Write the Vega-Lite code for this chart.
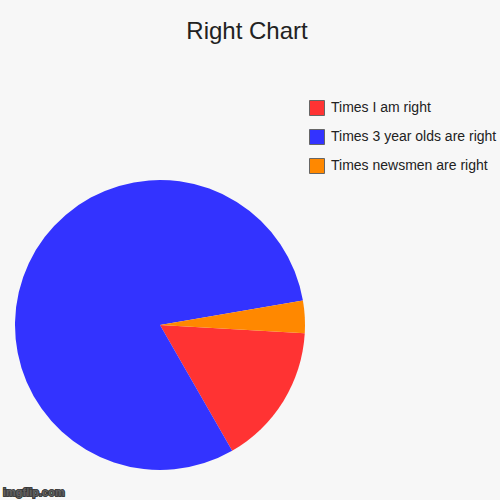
{
  "$schema": "https://vega.github.io/schema/vega-lite/v6.json",
  "width": 500,
  "height": 500,
  "autosize": "none",
  "padding": 0,
  "background": "#f7f7f7",
  "title": {
    "text": "Right Chart",
    "anchor": "middle",
    "frame": "group",
    "orient": "top",
    "offset": -23,
    "dx": -3,
    "dy": 40,
    "baseline": "alphabetic",
    "font": "Liberation Sans",
    "fontSize": 24,
    "fontWeight": "normal",
    "color": "#222222"
  },
  "data": {
    "values": [
      {"category": "Times I am right", "value": 15.8, "idx": 1},
      {"category": "Times 3 year olds are right", "value": 80.6, "idx": 2},
      {"category": "Times newsmen are right", "value": 3.6, "idx": 3}
    ]
  },
  "layer": [
    {
      "mark": {"type": "arc", "x": 160, "y": 325, "outerRadius": 145},
      "encoding": {
        "theta": {
          "field": "value",
          "type": "quantitative",
          "stack": true,
          "scale": {"range": [1.628, 7.911]}
        },
        "order": {"field": "idx", "type": "quantitative"},
        "color": {
          "field": "category",
          "type": "nominal",
          "scale": {
            "domain": ["Times I am right", "Times 3 year olds are right", "Times newsmen are right"],
            "range": ["#ff3333", "#3333ff", "#ff8800"]
          },
          "legend": {
            "title": null,
            "orient": "none",
            "legendX": 309,
            "legendY": 100,
            "padding": 0,
            "symbolType": "square",
            "symbolSize": 225,
            "symbolStrokeColor": "#666666",
            "symbolStrokeWidth": 1,
            "symbolOpacity": 1,
            "labelFont": "Liberation Sans",
            "labelFontSize": 14,
            "labelColor": "#222222",
            "labelOffset": 6,
            "rowPadding": 9,
            "labelLimit": 300
          }
        }
      }
    },
    {
      "mark": {
        "type": "text",
        "x": 3,
        "y": 493,
        "align": "left",
        "baseline": "middle",
        "text": "imgflip.com",
        "font": "Liberation Sans",
        "fontSize": 11,
        "fontWeight": "bold",
        "fill": "#ffffff",
        "stroke": "#333333",
        "strokeWidth": 1.5,
        "strokeOpacity": 0.8
      },
      "encoding": {}
    }
  ]
}
